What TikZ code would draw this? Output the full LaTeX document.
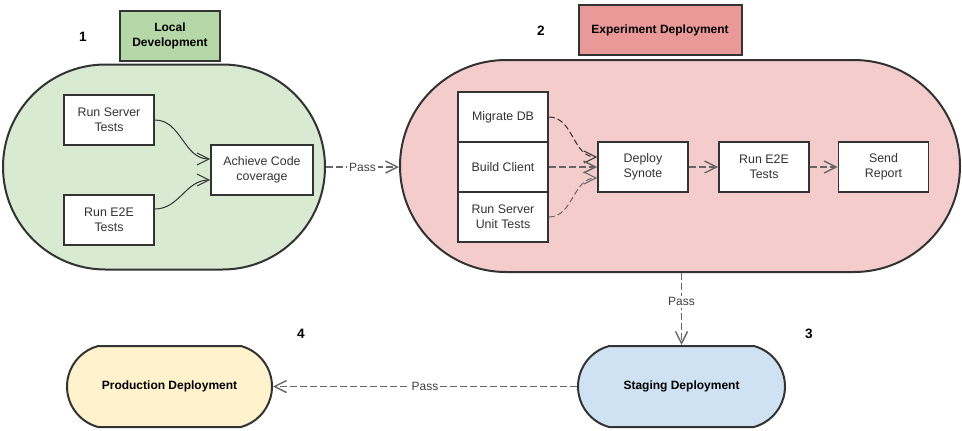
\documentclass[tikz,border=0pt]{standalone}
\usepackage{fontspec}
\setmainfont{Liberation Sans}
\usetikzlibrary{shapes.geometric,shapes.misc,arrows.meta}
\definecolor{verde}{HTML}{D9EAD3}
\definecolor{verdeosc}{HTML}{B6D7A8}
\definecolor{rosa}{HTML}{F4CCCC}
\definecolor{rosaosc}{HTML}{EA9999}
\definecolor{azul}{HTML}{CFE2F3}
\definecolor{amarillo}{HTML}{FFF2CC}
\definecolor{borde}{HTML}{333333}
\definecolor{linea}{HTML}{666666}
\tikzset{
  caja/.style={draw=borde,fill=white,line width=0.9pt,minimum width=45pt,minimum height=25pt,
    inner sep=1pt,align=center,text=borde,font=\fontsize{6.2}{7.6}\selectfont},
  titulo/.style={draw=borde,line width=1pt,minimum height=25pt,align=center,
    font=\bfseries\fontsize{6}{7.6}\selectfont},
  fase/.style={draw=borde,line width=1pt,inner sep=0pt,font=\bfseries\fontsize{6}{7}\selectfont},
  num/.style={font=\bfseries\fontsize{6.8}{8}\selectfont},
  flecha/.style={draw=borde,line width=0.5pt,-{Straight Barb[length=6pt,width=6pt]}},
  paso/.style={draw=linea,line width=0.7pt,dash pattern=on 3.5pt off 1.5pt,
    -{Straight Barb[length=6pt,width=6pt]}},
  etiqueta/.style={fill=white,inner sep=1pt,text=black!75,font=\fontsize{6}{7}\selectfont}
}
\begin{document}
\begin{tikzpicture}[x=0.5pt,y=-0.5pt]
  \useasboundingbox (0,0) rectangle (962,430);
  % Fases
  \node[fase,rounded rectangle,fill=verde,minimum width=161pt,minimum height=102.5pt] (local) at (164,167) {};
  \node[fase,rounded rectangle,fill=rosa,minimum width=280pt,minimum height=106pt] (exper) at (680,166) {};
  \node[fase,rounded rectangle,rounded rectangle arc length=150,fill=azul,
    minimum width=103.5pt,minimum height=40.5pt] (stg) at (681.5,386.5) {Staging Deployment};
  \node[fase,rounded rectangle,rounded rectangle arc length=150,fill=amarillo,
    minimum width=102.5pt,minimum height=40.5pt] (prod) at (169.5,386.5) {Production Deployment};
  % Títulos y números
  \node[titulo,fill=verdeosc,minimum width=50pt] (tlocal) at (170,36) {Local\\Development};
  \node[titulo,fill=rosaosc,minimum width=81.5pt] (texper) at (660,30) {Experiment Deployment};
  \node[num] (n1) at (83,37) {1};
  \node[num] (n2) at (541,31) {2};
  \node[num] (n3) at (809,334) {3};
  \node[num] (n4) at (301,334) {4};
  % Cajas
  \node[caja] (srv) at (109,120) {Run Server\\Tests};
  \node[caja] (e2e) at (109,220) {Run E2E\\Tests};
  \node[caja,minimum width=51pt] (cov) at (262,170) {Achieve Code\\coverage};
  \node[caja] (mig) at (503,117) {Migrate DB};
  \node[caja] (cli) at (503,167) {Build Client};
  \node[caja] (uni) at (503,217) {Run Server\\Unit Tests};
  \node[caja] (dep) at (643,167) {Deploy\\Synote};
  \node[caja] (run) at (764,167) {Run E2E\\Tests};
  \node[caja] (rep) at (883.5,167) {Send\\Report};
  % Flechas
  \draw[flecha] (srv.east) to[out=0,in=180] ([yshift=5.5pt]cov.west);
  \draw[flecha] ([yshift=5.5pt]e2e.east) to[out=0,in=180] ([yshift=-5pt]cov.west);
  \draw[paso,draw=borde,line width=0.5pt,dash pattern=on 3pt off 1.5pt] (mig.east) to[out=0,in=180] ([yshift=5pt]dep.west);
  \draw[paso] (cli.east) -- (dep.west);
  \draw[paso,line width=0.5pt,dash pattern=on 3pt off 1.5pt] (uni.east) to[out=0,in=180] ([yshift=-5.5pt]dep.west);
  \draw[paso] (dep.east) -- (run.west);
  \draw[paso] (run.east) -- (rep.west);
  \draw[paso] (local.east) -- node[etiqueta] (p1) {Pass} (local.east -| exper.west);
  \draw[paso] (exper.south -| stg.north) -- node[etiqueta,pos=0.4] (p2) {Pass} (stg.north);
  \draw[paso] (stg.west) -- node[etiqueta] (p3) {Pass} (prod.east);
\end{tikzpicture}
\end{document}
